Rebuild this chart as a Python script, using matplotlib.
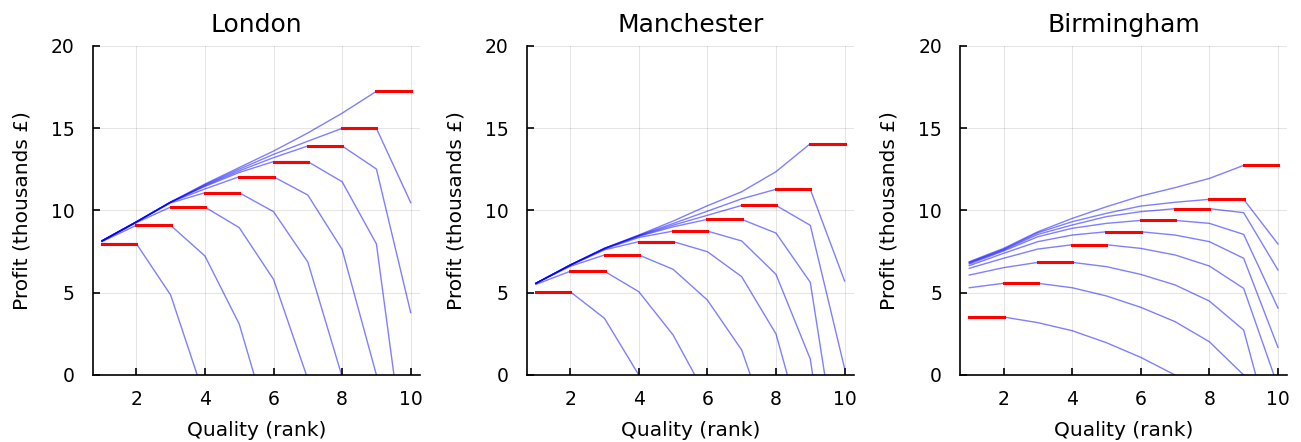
import matplotlib.pyplot as plt
import numpy as np

nan = np.nan

# quality ranks on the x axis
quality = [1, 2, 3, 4, 5, 6, 7, 8, 9, 10]
cities = ['London', 'Manchester', 'Birmingham']

# profit curves (thousands £), one per chosen rank
london_curves = [
    [7.98, 7.98, 4.86, -1.4, nan, nan, nan, nan, nan, nan],
    [8.10, 9.09, 9.09, 7.23, 3.10, -4.0, nan, nan, nan, nan],
    [8.12, 9.25, 10.20, 10.20, 8.95, 5.81, -0.25, nan, nan, nan],
    [8.15, 9.28, 10.45, 11.07, 11.07, 9.92, 6.86, -0.1, nan, nan],
    [8.15, 9.30, 10.50, 11.30, 12.04, 12.04, 10.93, 7.63, 0.0, -8.0],
    [8.15, 9.30, 10.50, 11.45, 12.30, 12.96, 12.96, 11.74, 7.96, -7.6],
    [8.15, 9.30, 10.50, 11.50, 12.40, 13.20, 13.91, 13.91, 12.51, 3.79],
    [8.15, 9.30, 10.50, 11.55, 12.50, 13.40, 14.20, 14.98, 14.98, 10.47],
    [8.15, 9.30, 10.50, 11.60, 12.60, 13.60, 14.70, 15.90, 17.23, 17.23],
]
manchester_curves = [
    [5.06, 5.06, 3.44, 0.0, -4.0, nan, nan, nan, nan, nan],
    [5.50, 6.30, 6.30, 5.06, 2.43, -1.4, nan, nan, nan, nan],
    [5.57, 6.60, 7.29, 7.29, 6.42, 4.55, 1.52, -4.5, nan, nan],
    [5.57, 6.65, 7.60, 8.10, 8.10, 7.49, 5.97, 2.49, -5.0, nan],
    [5.57, 6.68, 7.65, 8.35, 8.74, 8.74, 8.14, 6.11, 0.97, -13.0],
    [5.57, 6.68, 7.68, 8.42, 9.00, 9.45, 9.45, 8.62, 5.63, -7.7],
    [5.57, 6.68, 7.69, 8.45, 9.10, 9.70, 10.30, 10.30, 9.09, 0.4],
    [5.57, 6.68, 7.69, 8.48, 9.20, 9.95, 10.70, 11.28, 11.28, 5.71],
    [5.57, 6.68, 7.70, 8.50, 9.35, 10.28, 11.13, 12.35, 14.05, 14.05],
]
birmingham_curves = [
    [3.52, 3.52, 3.18, 2.69, 1.96, 1.07, 0.0, -1.3, nan, nan],
    [5.30, 5.57, 5.57, 5.30, 4.80, 4.11, 3.24, 2.02, 0.0, -3.0],
    [6.07, 6.52, 6.84, 6.84, 6.58, 6.11, 5.47, 4.49, 2.73, -5.0],
    [6.48, 7.09, 7.65, 7.91, 7.91, 7.69, 7.29, 6.62, 5.26, -0.7],
    [6.64, 7.39, 8.10, 8.50, 8.70, 8.70, 8.50, 8.10, 7.09, 1.68],
    [6.74, 7.53, 8.40, 8.91, 9.21, 9.39, 9.39, 9.21, 8.54, 4.07],
    [6.80, 7.59, 8.54, 9.11, 9.62, 9.92, 10.10, 10.10, 9.86, 6.38],
    [6.84, 7.63, 8.64, 9.31, 9.82, 10.26, 10.49, 10.67, 10.67, 7.96],
    [6.88, 7.69, 8.70, 9.51, 10.22, 10.87, 11.38, 11.94, 12.73, 12.73],
]

# best profit for each chosen rank (red steps)
london_best = [7.98, 9.09, 10.20, 11.07, 12.04, 12.96, 13.91, 14.98, 17.23]
manchester_best = [5.06, 6.30, 7.29, 8.10, 8.74, 9.45, 10.30, 11.28, 14.05]
birmingham_best = [3.52, 5.57, 6.84, 7.91, 8.70, 9.39, 10.10, 10.67, 12.73]

all_curves = [london_curves, manchester_curves, birmingham_curves]
all_best = [london_best, manchester_best, birmingham_best]

fig = plt.figure(figsize=(13.01, 4.42), dpi=100)
lefts = [0.0713, 0.4048, 0.7379]

for i, city in enumerate(cities):
    ax = fig.add_axes([lefts[i], 0.1516, 0.2515, 0.745])
    for curve in all_curves[i]:
        ax.plot(quality, curve, color='blue', alpha=0.5, linewidth=1, zorder=2)
    for k, best in enumerate(all_best[i]):
        ax.plot([quality[k], quality[k + 1]], [best, best], color='red', linewidth=2.2, zorder=3)

    ax.set_xlim(0.73, 10.27)
    ax.set_ylim(0, 20)
    ax.set_xticks([2, 4, 6, 8, 10])
    ax.set_yticks([0, 5, 10, 15, 20])
    ax.grid(True, color='#000000', alpha=0.1, linewidth=0.8)
    ax.set_axisbelow(True)
    ax.spines['top'].set_visible(False)
    ax.spines['right'].set_visible(False)
    ax.spines['left'].set_linewidth(1.2)
    ax.spines['bottom'].set_linewidth(1.2)
    ax.tick_params(direction='in', length=5, width=1.2, labelsize=13.5)
    ax.tick_params(axis='x', pad=11)
    ax.tick_params(axis='y', pad=13)
    ax.set_title(city, fontsize=18, pad=10)
    ax.set_xlabel('Quality (rank)', fontsize=14.5, labelpad=8.5)
    ax.set_ylabel('Profit (thousands £)', fontsize=14.5, labelpad=14)

plt.savefig('out.png', dpi=100)
plt.close()
